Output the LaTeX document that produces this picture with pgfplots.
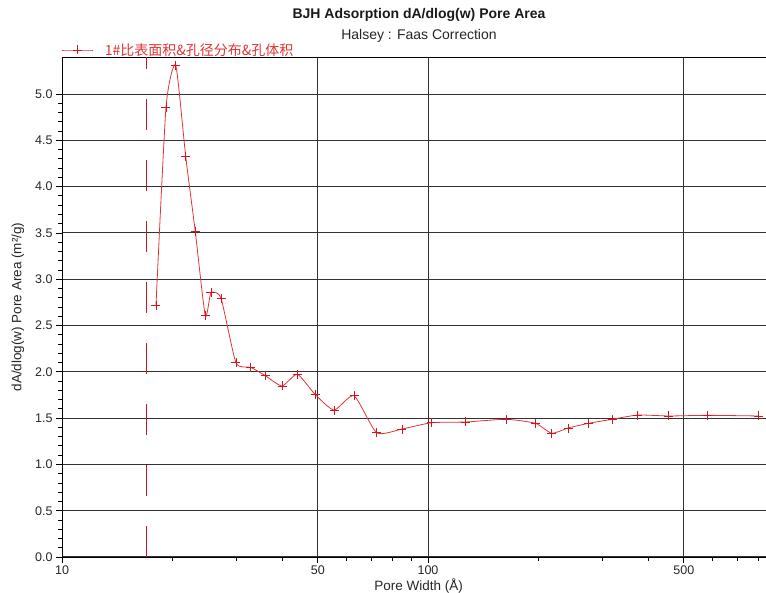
\documentclass[border=0pt]{standalone}
\usepackage{fontspec}
\setmainfont{Liberation Sans}
\newfontfamily\cjk{Noto Sans CJK SC}
\usepackage{pgfplots}
\pgfplotsset{compat=1.18}
\definecolor{dataline}{RGB}{226,52,52}
\definecolor{datamark}{RGB}{210,20,30}
\definecolor{gridc}{RGB}{50,50,50}
\begin{document}
\begin{tikzpicture}[x=1pt,y=1pt]
\begin{axis}[
  name=ax,
  at={(0,0)}, anchor=south west,
  scale only axis, width=706pt, height=500pt,
  xmode=log, xmin=10, xmax=849, ymin=0, ymax=5.4,
  xtick={10,50,100,500}, xticklabels={10,50,100,500},
  minor xtick={20,30,40,60,70,80,90,200,300,400,600,700,800},
  ytick={0,0.5,1,1.5,2,2.5,3,3.5,4,4.5,5},
  minor y tick num=4,
  yticklabel style={/pgf/number format/.cd, fixed, fixed zerofill, precision=1},
  /pgf/number format/assume math mode=true,
  tick align=outside, tick pos=left,
  major tick length=6pt, minor tick length=4pt,
  tick style={black, line width=0.8pt},
  xmajorgrids, ymajorgrids,
  major grid style={gridc, line width=1pt},
  axis line style={black, line width=0.9pt},
  tick label style={font=\fontsize{12.5}{14}\selectfont, text=black!85},
  xticklabel style={yshift=1pt},
  xlabel={Pore Width (Å)}, ylabel={dA/dlog(w) Pore Area (m²/g)},
  label style={font=\fontsize{13.5}{15}\selectfont, text=black!85},
  xlabel style={at={(axis description cs:0.505,0)}, yshift=-29.5pt, anchor=center},
  ylabel style={at={(axis description cs:0,0.5)}, yshift=44pt, anchor=center},
  legend style={at={(0,1)}, anchor=west, draw=none, fill=none,
    inner sep=0pt, outer sep=0pt, yshift=7pt,
    font=\cjk\fontsize{14}{16}\selectfont, text=dataline},
  legend cell align=left,
  legend image code/.code={\draw[mark repeat=2,mark phase=2,#1] plot coordinates {(0pt,0pt) (15.5pt,0pt) (31pt,0pt)};},
]
\addplot[datamark, line width=1pt, dash pattern=on 31pt off 30pt, forget plot] coordinates {(17,0) (17,5.4)};
\addplot[color=dataline, line width=0.8pt, smooth, tension=0.35, mark=+, mark size=4.5pt,
  mark options={datamark, line width=0.9pt, solid}] coordinates {
(18.06,2.714)
(19.24,4.856)
(20.45,5.31)
(21.78,4.323)
(23.13,3.513)
(24.63,2.606)
(25.53,2.854)
(27.19,2.794)
(29.88,2.098)
(32.79,2.048)
(35.94,1.958)
(39.92,1.847)
(43.95,1.973)
(49.12,1.757)
(55.36,1.587)
(62.8,1.742)
(72.4,1.342)
(84.9,1.382)
(102.3,1.450)
(126.8,1.458)
(163.4,1.487)
(196.5,1.444)
(217.8,1.336)
(241.3,1.393)
(274.8,1.444)
(318.2,1.487)
(374.2,1.533)
(454.6,1.523)
(579.6,1.530)
(801,1.523)
};
\addlegendentry{\hspace*{9pt}1\#比表面积\&孔径分布\&孔体积}
\end{axis}
\node[font=\bfseries\fontsize{14}{16}\selectfont, text=black!90] at ([xshift=4pt,yshift=42pt]ax.north) {BJH Adsorption dA/dlog(w) Pore Area};
\node[font=\fontsize{14}{16}\selectfont, text=black!85] at ([xshift=4pt,yshift=21pt]ax.north) {Halsey : Faas Correction};
\pgfresetboundingbox
\path[use as bounding box] (-62,-36) rectangle (704,557);
\end{tikzpicture}
\end{document}
